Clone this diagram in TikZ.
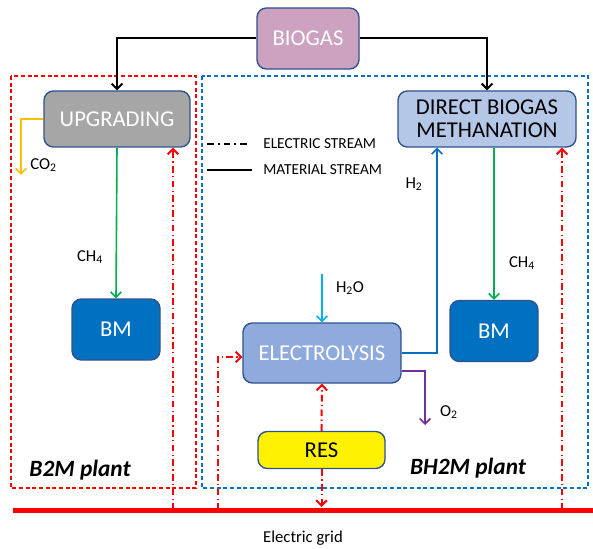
\documentclass[tikz,border=0pt]{standalone}
\usepackage{fontspec}
\setmainfont{Carlito}
\usetikzlibrary{calc}
\usetikzlibrary{arrows.meta}

\definecolor{biogaspink}{RGB}{205,161,192}
\definecolor{upggray}{RGB}{166,166,166}
\definecolor{dbmblue}{RGB}{180,199,231}
\definecolor{elecblue}{RGB}{143,170,220}
\definecolor{bmblue}{RGB}{0,112,192}
\definecolor{boxline}{RGB}{47,82,143}
\definecolor{methgreen}{RGB}{0,176,80}
\definecolor{co2orange}{RGB}{255,192,0}
\definecolor{waterblue}{RGB}{0,176,240}
\definecolor{o2purple}{RGB}{112,48,160}

\tikzset{
    unit/.style={draw=boxline, line width=1pt, rounded corners=7pt, align=center, font=\fontsize{17}{19}\selectfont},
    tip/.style={-{Straight Barb[length=4pt,width=8pt]}},
    matline/.style={line width=1.5pt, tip},
    flowline/.style={line width=1.2pt, tip},
    elecline/.style={red, line width=1.5pt, dash pattern=on 5pt off 2.5pt on 1pt off 2.5pt, tip},
    chem/.style={font=\fontsize{12.5}{14}\selectfont},
    plant/.style={font=\fontsize{17.5}{19}\selectfont\bfseries\itshape}
}

\begin{document}
\begin{tikzpicture}[x=0.75pt,y=-0.75pt]
    \useasboundingbox (0,0) rectangle (593,549);

    % plant borders
    \draw[red, line width=0.8pt, dash pattern=on 3pt off 2pt] (11,76) rectangle (196,488);
    \draw[bmblue, line width=0.8pt, dash pattern=on 3pt off 2pt] (202,76) rectangle (588,488);

    % units
    \node[unit, fill=biogaspink, text=white, minimum width=102*0.75pt, minimum height=61*0.75pt] (biogas) at (308,38.5) {BIOGAS};
    \node[unit, fill=upggray, text=white, minimum width=146*0.75pt, minimum height=56*0.75pt] (upg) at (117,119) {UPGRADING};
    \node[unit, fill=dbmblue, minimum width=178*0.75pt, minimum height=56*0.75pt, inner sep=1pt] (dbm) at (487,119) {DIRECT BIOGAS\\[-2pt]METHANATION};
    \node[unit, fill=bmblue, text=white, minimum width=88*0.75pt, minimum height=61*0.75pt] (bmleft) at (116,329.5) {BM};
    \node[unit, fill=bmblue, text=white, minimum width=88*0.75pt, minimum height=61*0.75pt] (bmright) at (494,331) {BM};
    \node[unit, fill=elecblue, text=white, minimum width=158*0.75pt, minimum height=60*0.75pt] (elec) at (322,353) {ELECTROLYSIS};
    \node[unit, fill=yellow, minimum width=127*0.75pt, minimum height=37*0.75pt] (res) at (321.5,450) {RES};

    % electric grid
    \coordinate (gridleft) at (13,510);
    \coordinate (gridright) at (593,510);
    \draw[red, line width=3.75pt] (gridleft) -- (gridright);
    \node[chem] (gridlabel) at (303,538) {Electric grid};

    % material streams
    \draw[matline] (biogas.west) -| (upg.north);
    \draw[matline] (biogas.east) -| (dbm.north);
    \coordinate (co2end) at (21,175);
    \draw[flowline, co2orange] (upg.west) -| (co2end);
    \draw[flowline, methgreen] (upg.south) -- (bmleft.north);
    \draw[flowline, methgreen] (bmright.north |- dbm.south) -- (bmright.north);
    \coordinate (h2oin) at (322,274);
    \draw[flowline, waterblue] (h2oin) -- (elec.north);
    \draw[flowline, bmblue] (elec.east) -| ($(dbm.south)+(-50,0)$);
    \coordinate (o2end) at (425,425);
    \draw[flowline, o2purple] ($(elec.east)+(0,18)$) -| (o2end);

    \node[chem] (co2) at (43.5,165) {CO\textsubscript{2}};
    \node[chem] (ch4left) at (90,257) {CH\textsubscript{4}};
    \node[chem] (ch4right) at (522,263) {CH\textsubscript{4}};
    \node[chem] (h2) at (414,184) {H\textsubscript{2}};
    \node[chem] (h2o) at (350,288) {H\textsubscript{2}O};
    \node[chem] (o2) at (449,412) {O\textsubscript{2}};

    % electric streams
    \foreach \name/\xpos in {upg/173, dbm/562} {
        \coordinate (feed\name) at (\xpos,510);
        \draw[elecline] (feed\name) -- (feed\name |- \name.south);
    }
    \coordinate (feedelec) at (218,510);
    \draw[elecline] (feedelec) |- ($(elec.west)+(0,4)$);
    \draw[elecline] (res.north) -- (elec.south);
    \draw[elecline] (res.south) -- ($(res.south |- gridleft)+(0,-3)$);

    % legend
    \draw[line width=1.5pt, dash pattern=on 5pt off 3pt on 1.5pt off 3pt] (207,144) -- (250,144);
    \draw[line width=1.5pt] (207,170) -- (252,170);
    \node[anchor=west, inner sep=0pt, font=\fontsize{11.5}{13}\selectfont] (legelec) at (263,144) {ELECTRIC STREAM};
    \node[anchor=west, inner sep=0pt, font=\fontsize{11.5}{13}\selectfont] (legmat) at (263,170) {MATERIAL STREAM};

    \node[plant] (b2m) at (80,470) {B2M plant};
    \node[plant] (bh2m) at (468,468) {BH2M plant};
\end{tikzpicture}
\end{document}
